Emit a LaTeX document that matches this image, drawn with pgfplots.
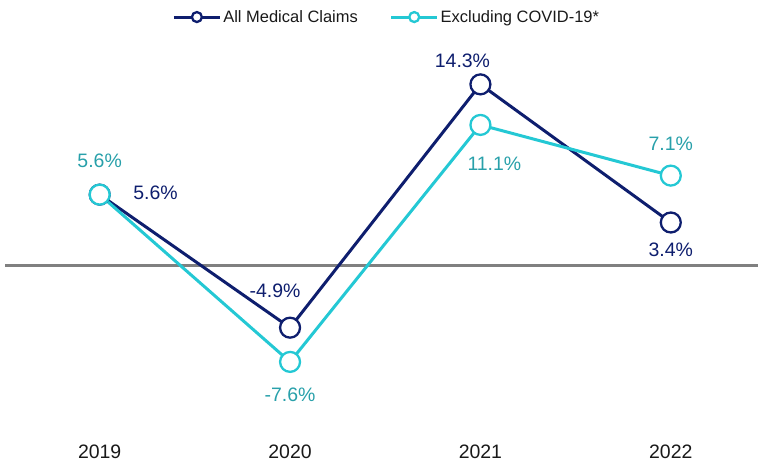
\documentclass[border=0pt]{standalone}
\usepackage{pgfplots}
\pgfplotsset{compat=1.18}
\usepackage{pgfplotstable}
\usepackage{fontspec}
\setmainfont{Liberation Sans}
\definecolor{navy}{RGB}{14,30,110}
\definecolor{cyanl}{RGB}{36,200,212}
\definecolor{tealt}{RGB}{40,160,170}
\definecolor{zgray}{RGB}{128,128,128}

\pgfplotstableread{
x y dx dy lab
0 5.6 56 2 5.6
1 -4.9 -15 37 -4.9
2 14.3 -18 24 14.3
3 3.4 0 -27 3.4
}\allclaims
\pgfplotstableread{
x y dx dy lab
0 5.6 0 34 5.6
1 -7.6 0 -33 -7.6
2 11.1 14 -39 11.1
3 7.1 0 32 7.1
}\exclcovid

\begin{document}
\begin{tikzpicture}
\begin{axis}[
 scale only axis, width=759pt, height=466pt,
 xmin=-0.5236, xmax=3.4555, ymin=-15.75, ymax=20.95,
 axis line style={draw=none}, major tick length=0pt,
 ytick=\empty, xtick={0,1,2,3}, xticklabels={2019,2020,2021,2022},
 xticklabel style={anchor=base, yshift=7pt, font=\fontsize{19.5}{22}\selectfont, text=black!90},
 clip=false,
 legend columns=2,
 legend style={at={(387.5/759, 1-17/466)}, anchor=center, draw=none, fill=none,
   font=\fontsize{16.5}{19}\selectfont, text=black!90,
   /tikz/every even column/.append style={column sep=30pt}},
 legend image code/.code={\draw[#1,mark=none] (0pt,0pt)--(46pt,0pt); \path[#1,mark size=5pt] plot coordinates {(23pt,0pt)};},
]
\addplot[zgray, line width=3pt, forget plot] coordinates {(-0.497,0) (3.4555,0)};

\addplot[navy, line width=3pt, mark=*, mark size=10pt,
  mark options={fill=white, line width=2.3pt, solid},
  point meta=explicit symbolic,
  visualization depends on={\thisrow{dx}\as\dx},
  visualization depends on={\thisrow{dy}\as\dy},
  nodes near coords={\pgfplotspointmeta\%},
  every node near coord/.append style={anchor=center, xshift={\dx*1pt}, yshift={\dy*1pt}, text=navy, font=\fontsize{19.5}{22}\selectfont}
] table[x=x, y=y, meta=lab] {\allclaims};
\addlegendentry{All Medical Claims}

\addplot[cyanl, line width=3pt, mark=*, mark size=10pt,
  mark options={fill=white, line width=2.3pt, solid},
  point meta=explicit symbolic,
  visualization depends on={\thisrow{dx}\as\dx},
  visualization depends on={\thisrow{dy}\as\dy},
  nodes near coords={\pgfplotspointmeta\%},
  every node near coord/.append style={anchor=center, xshift={\dx*1pt}, yshift={\dy*1pt}, text=tealt, font=\fontsize{19.5}{22}\selectfont}
] table[x=x, y=y, meta=lab] {\exclcovid};
\addlegendentry{Excluding COVID-19*}
\end{axis}
\end{tikzpicture}
\end{document}
